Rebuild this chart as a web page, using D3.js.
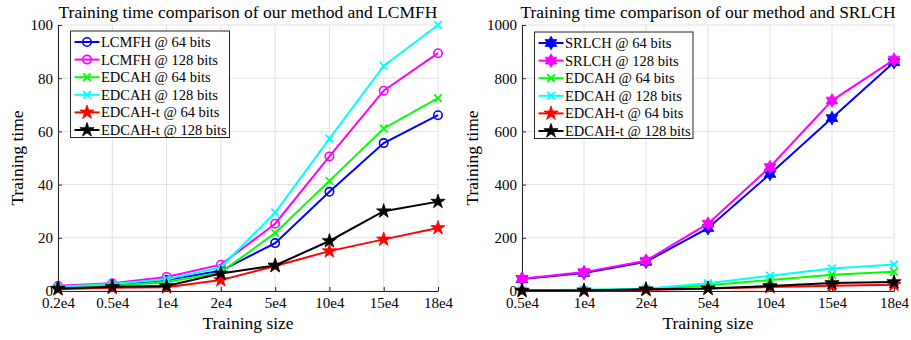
<!DOCTYPE html>
<html>
<head>
<meta charset="utf-8">
<script src="https://cdn.jsdelivr.net/npm/d3@7"></script>
<style>
  html, body { margin: 0; padding: 0; background: #fff; }
  svg text { font-family: "Liberation Serif", "Times New Roman", serif; fill: #000; }
</style>
</head>
<body>
<svg id="chart" width="911" height="340"></svg>
<script>
// Training sizes
const sizesLeft = ["0.2e4", "0.5e4", "1e4", "2e4", "5e4", "10e4", "15e4", "18e4"];
const sizesRight = ["0.5e4", "1e4", "2e4", "5e4", "10e4", "15e4", "18e4"];

// Training time per method (values at sizesLeft)
const lcmfh64  = [1.4, 2.3, 4.1, 7.6, 18.0, 37.3, 55.6, 66.1];
const lcmfh128 = [2.0, 2.9, 5.3, 9.9, 25.3, 50.6, 75.3, 89.4];
const edcah64  = [1.2, 2.0, 3.3, 7.0, 21.8, 41.4, 61.1, 72.5];
const edcah128 = [1.6, 2.6, 4.4, 8.9, 29.5, 57.3, 84.6, 100.0];
const edcahT64 = [0.7, 1.2, 1.4, 4.1, 9.4, 15.0, 19.4, 23.7];
const edcahT128 = [0.9, 1.6, 1.9, 6.6, 9.6, 18.8, 30.0, 33.6];

// Training time per method (values at sizesRight)
const srlch64  = [45, 68, 110, 236, 440, 650, 860];
const srlch128 = [46, 71, 114, 253, 466, 716, 870];

const yTicksLeft = [0, 20, 40, 60, 80, 100];
const yTicksRight = [0, 200, 400, 600, 800, 1000];

const svg = d3.select("#chart");
const FONT = "Liberation Serif";

// marker shapes
function pentagram(r) {
  const ri = r * 0.382;
  const pts = [];
  for (let i = 0; i < 10; i++) {
    const a = -Math.PI / 2 + i * Math.PI / 5;
    const rr = i % 2 === 0 ? r : ri;
    pts.push([rr * Math.cos(a), rr * Math.sin(a)]);
  }
  return "M" + pts.map(p => p.join(",")).join("L") + "Z";
}
function hexagram(r) {
  const ri = r * 0.577;
  const pts = [];
  for (let i = 0; i < 12; i++) {
    const a = -Math.PI / 2 + i * Math.PI / 6;
    const rr = i % 2 === 0 ? r : ri;
    pts.push([rr * Math.cos(a), rr * Math.sin(a)]);
  }
  return "M" + pts.map(p => p.join(",")).join("L") + "Z";
}
function drawMarker(g, type, color) {
  if (type === "o") {
    g.append("circle").attr("r", 4.2).attr("fill", "none")
      .attr("stroke", color).attr("stroke-width", 1.6);
  } else if (type === "x") {
    const s = 3.8;
    g.append("path").attr("d", `M${-s},${-s}L${s},${s}M${-s},${s}L${s},${-s}`)
      .attr("stroke", color).attr("stroke-width", 1.8).attr("fill", "none");
  } else if (type === "p") {
    g.append("path").attr("d", pentagram(7.5)).attr("fill", color)
      .attr("stroke", color).attr("stroke-width", 0.8).attr("stroke-linejoin", "miter");
  } else if (type === "h") {
    g.append("path").attr("d", hexagram(6.8)).attr("fill", color)
      .attr("stroke", color).attr("stroke-width", 0.8);
  }
}

function panel(opts) {
  const { left, right, top, bottom, cats, yMax, yTicks, series, title } = opts;
  const x = d3.scalePoint().domain(cats).range([left, right]);
  const y = d3.scaleLinear().domain([0, yMax]).range([bottom, top]);
  const g = svg.append("g");

  // grid
  g.append("g").selectAll("line").data(cats).join("line")
    .attr("x1", d => x(d)).attr("x2", d => x(d))
    .attr("y1", top).attr("y2", bottom)
    .attr("stroke", "#e1e1e1").attr("stroke-width", 1);
  g.append("g").selectAll("line").data(yTicks).join("line")
    .attr("x1", left).attr("x2", right)
    .attr("y1", d => y(d)).attr("y2", d => y(d))
    .attr("stroke", "#e1e1e1").attr("stroke-width", 1);

  // axes
  const xAxis = g.append("g").attr("transform", `translate(0,${bottom})`)
    .call(d3.axisBottom(x).tickSizeInner(-4).tickSizeOuter(0).tickPadding(6));
  const yAxis = g.append("g").attr("transform", `translate(${left},0)`)
    .call(d3.axisLeft(y).tickValues(yTicks).tickFormat(d3.format("d"))
      .tickSizeInner(-4).tickSizeOuter(0).tickPadding(5));
  [xAxis, yAxis].forEach(a => {
    a.attr("font-family", FONT).attr("font-size", 15);
    a.select(".domain").attr("stroke", "#262626").attr("stroke-width", 1);
    a.selectAll(".tick line").attr("stroke", "#262626");
    a.selectAll(".tick text").attr("font-size", 15)
      .attr("font-family", FONT).attr("fill", "#000");
  });

  // axis titles
  g.append("text").attr("x", (left + right) / 2).attr("y", bottom + 38)
    .attr("text-anchor", "middle").attr("font-size", 17.5).text("Training size");
  g.append("text")
    .attr("transform", `translate(${opts.yLabelX},${(top + bottom) / 2}) rotate(-90)`)
    .attr("text-anchor", "middle").attr("font-size", 17.5).text("Training time");
  g.append("text").attr("x", (left + right) / 2).attr("y", top - 7)
    .attr("text-anchor", "middle").attr("font-size", 17.5).text(title);

  // series
  const line = d3.line().x(d => x(d[0])).y(d => y(d[1]));
  series.forEach(s => {
    const pts = cats.map((c, i) => [c, s.values[i]]);
    g.append("path").datum(pts).attr("d", line)
      .attr("fill", "none").attr("stroke", s.color).attr("stroke-width", 2);
    pts.forEach(p => {
      const m = g.append("g").attr("transform", `translate(${x(p[0])},${y(p[1])})`);
      drawMarker(m, s.marker, s.color);
    });
  });

  // legend
  const lg = g.append("g").attr("transform", `translate(${opts.legend.x},${opts.legend.y})`);
  lg.append("rect").attr("x", 0).attr("y", 0)
    .attr("width", opts.legend.w).attr("height", 106.5)
    .attr("fill", "#fff").attr("stroke", "#262626").attr("stroke-width", 1);
  series.forEach((s, i) => {
    const yy = 11 + i * 17.6;
    lg.append("line").attr("x1", 4).attr("x2", 29).attr("y1", yy).attr("y2", yy)
      .attr("stroke", s.color).attr("stroke-width", 2);
    const m = lg.append("g").attr("transform", `translate(16.5,${yy})`);
    drawMarker(m, s.marker, s.color);
    lg.append("text").attr("x", 30.5).attr("y", yy).attr("dy", "0.35em")
      .attr("font-size", 14.5).text(s.name);
  });
}

panel({
  left: 58, right: 438, top: 25, bottom: 291, yLabelX: 23,
  cats: sizesLeft, yMax: 100, yTicks: yTicksLeft,
  title: "Training time comparison of our method and LCMFH",
  legend: { x: 70.5, y: 31, w: 159 },
  series: [
    { name: "LCMFH @ 64 bits", values: lcmfh64, color: "#0000ff", marker: "o" },
    { name: "LCMFH @ 128 bits", values: lcmfh128, color: "#ff00ff", marker: "o" },
    { name: "EDCAH @ 64 bits", values: edcah64, color: "#00ff00", marker: "x" },
    { name: "EDCAH @ 128 bits", values: edcah128, color: "#00ffff", marker: "x" },
    { name: "EDCAH-t @ 64 bits", values: edcahT64, color: "#ff0000", marker: "p" },
    { name: "EDCAH-t @ 128 bits", values: edcahT128, color: "#000000", marker: "p" }
  ]
});

panel({
  left: 522, right: 894, top: 25, bottom: 291, yLabelX: 478,
  cats: sizesRight, yMax: 1000, yTicks: yTicksRight,
  title: "Training time comparison of our method and SRLCH",
  legend: { x: 534.5, y: 32, w: 158.5 },
  series: [
    { name: "SRLCH @ 64 bits", values: srlch64, color: "#0000ff", marker: "h" },
    { name: "SRLCH @ 128 bits", values: srlch128, color: "#ff00ff", marker: "h" },
    { name: "EDCAH @ 64 bits", values: edcah64.slice(1), color: "#00ff00", marker: "x" },
    { name: "EDCAH @ 128 bits", values: edcah128.slice(1), color: "#00ffff", marker: "x" },
    { name: "EDCAH-t @ 64 bits", values: edcahT64.slice(1), color: "#ff0000", marker: "p" },
    { name: "EDCAH-t @ 128 bits", values: edcahT128.slice(1), color: "#000000", marker: "p" }
  ]
});
</script>
</body>
</html>
